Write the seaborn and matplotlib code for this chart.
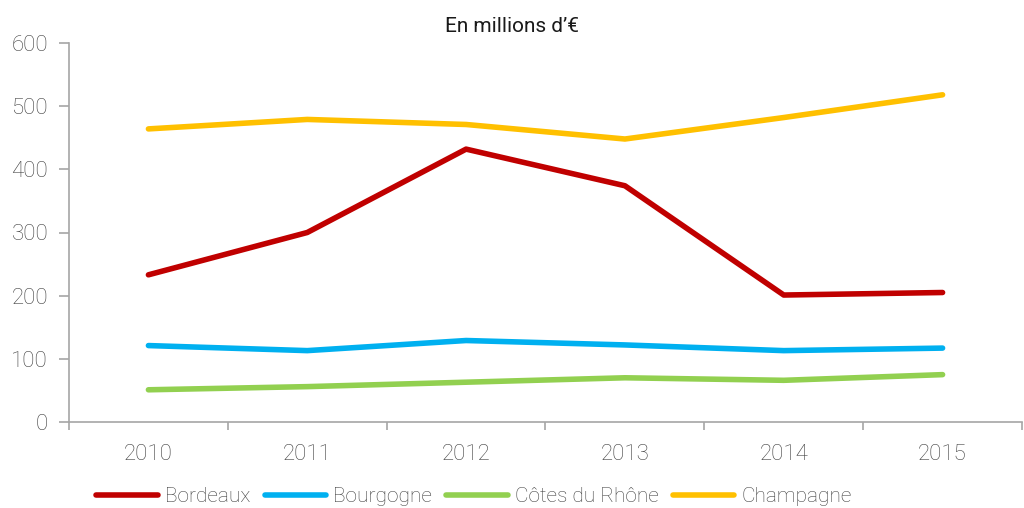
import pandas as pd
import matplotlib.pyplot as plt
import seaborn as sns

# --- data ---
years = ['2010', '2011', '2012', '2013', '2014', '2015']
bordeaux = [233, 300, 432, 374, 201, 205]
bourgogne = [121, 113, 129, 122, 113, 117]
cotes_du_rhone = [51, 56, 63, 70, 66, 75]
champagne = [464, 479, 471, 448, 482, 518]

series_names = ['Bordeaux', 'Bourgogne', 'Côtes du Rhône', 'Champagne']
series_values = [bordeaux, bourgogne, cotes_du_rhone, champagne]
series_colors = ['#C00000', '#00B0F0', '#92D050', '#FFC000']

rows = []
for name, vals in zip(series_names, series_values):
    for y, v in zip(years, vals):
        rows.append({'Année': y, 'Valeur': v, 'Région': name})
df = pd.DataFrame(rows)

sns.set_style('white')
plt.rcParams['font.family'] = ['Roboto', 'DejaVu Sans']
plt.rcParams['font.weight'] = 'light'

fig = plt.figure(figsize=(10.24, 5.08), dpi=100)
ax = fig.add_axes([69 / 1024, 1 - 422 / 508, (1022 - 69) / 1024, (422 - 43) / 508])

sns.lineplot(data=df, x='Année', y='Valeur', hue='Région', hue_order=series_names,
             palette=series_colors, linewidth=4, ax=ax, legend=False)
for line in ax.lines:
    line.set_solid_capstyle('round')

ax.set_xlim(-0.5, 5.456)
ax.set_ylim(0, 600)
ax.set_yticks(range(0, 601, 100))
ax.set_xticks(range(len(years)))
ax.set_xticklabels(years)
ax.set_xticks([i - 0.5 for i in range(len(years) + 1)], minor=True)
ax.set_xlabel('')
ax.set_ylabel('')

for s in ['top', 'right']:
    ax.spines[s].set_visible(False)
for s in ['left', 'bottom']:
    ax.spines[s].set_color('#A6A6A6')
    ax.spines[s].set_linewidth(1.2)

ax.tick_params(axis='y', which='major', direction='out', length=7, width=1.2,
               color='#A6A6A6', pad=8, labelsize=16, labelcolor='#404040', left=True)
ax.tick_params(axis='x', which='major', length=0, pad=16, labelsize=16, labelcolor='#404040')
ax.tick_params(axis='x', which='minor', direction='out', length=6, width=1.2,
               color='#A6A6A6', bottom=True)

fig.text(0.5, 1 - 27 / 508, 'En millions d’€', ha='center', va='center',
         fontsize=15, color='#1a1a1a', fontweight='normal')

handles = [plt.Line2D([], [], color=c, linewidth=4, solid_capstyle='round') for c in series_colors]
fig.legend(handles, series_names, loc='center', bbox_to_anchor=(474 / 1024, 1 - 497 / 508),
           ncol=4, frameon=False, fontsize=15, handlelength=2.95, handletextpad=0.33,
           columnspacing=0.7, labelcolor='#404040')

fig.savefig('out.png', dpi=100)
